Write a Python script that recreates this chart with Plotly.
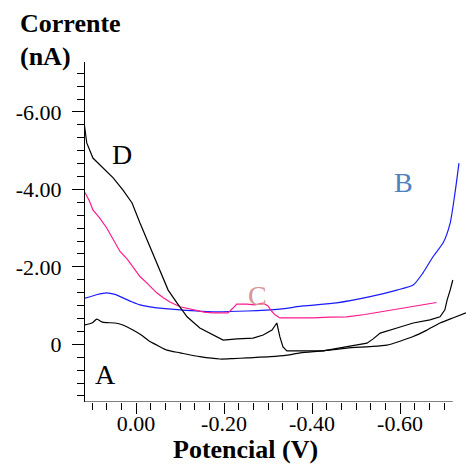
import plotly.graph_objects as go

# Potential (V) and current (nA) for the four voltammograms
pot_a = [0.116, 0.100, 0.089, 0.078, 0.067, 0.048, 0.030, 0.007, -0.012, -0.032, -0.052,
         -0.070, -0.100, -0.145, -0.191, -0.220, -0.252, -0.305, -0.343, -0.373, -0.425,
         -0.479, -0.530, -0.570, -0.600, -0.630, -0.660, -0.691, -0.720, -0.750]
cur_a = [-0.50, -0.55, -0.65, -0.58, -0.56, -0.55, -0.50, -0.37, -0.24, -0.07, 0.05,
         0.15, 0.22, 0.32, 0.38, 0.37, 0.35, 0.32, 0.28, 0.22, 0.17,
         0.10, 0.06, 0.02, -0.08, -0.20, -0.36, -0.55, -0.68, -0.81]

pot_b = [0.116, 0.090, 0.067, 0.048, 0.030, 0.010, -0.009, -0.047, -0.100, -0.175,
         -0.252, -0.327, -0.380, -0.456, -0.532, -0.593, -0.630, -0.652, -0.675, -0.698,
         -0.714, -0.725, -0.734]
cur_b = [-1.19, -1.28, -1.33, -1.29, -1.20, -1.10, -1.02, -0.94, -0.89, -0.84,
         -0.86, -0.91, -0.99, -1.07, -1.23, -1.40, -1.53, -1.84, -2.26, -2.62,
         -3.13, -3.91, -4.68]

pot_c = [0.116, 0.106, 0.098, 0.082, 0.067, 0.052, 0.036, 0.020, 0.007, -0.009, -0.025,
         -0.047, -0.062, -0.077, -0.100, -0.130, -0.155, -0.175, -0.209, -0.220, -0.229,
         -0.252, -0.270, -0.289, -0.300, -0.308, -0.316, -0.327, -0.360, -0.402, -0.440,
         -0.479, -0.520, -0.555, -0.590, -0.630, -0.660, -0.683]
cur_c = [-3.92, -3.70, -3.47, -3.25, -3.01, -2.70, -2.39, -2.20, -2.01, -1.75, -1.58,
         -1.33, -1.20, -1.09, -0.97, -0.89, -0.83, -0.81, -0.81, -0.93, -1.04,
         -1.04, -1.02, -1.06, -0.99, -0.86, -0.76, -0.68, -0.68, -0.68, -0.70,
         -0.71, -0.77, -0.84, -0.90, -0.99, -1.04, -1.08]

pot_d = [0.118, 0.112, 0.098, 0.086, 0.070, 0.052, 0.030, 0.009, -0.009, -0.032,
         -0.055, -0.073, -0.093, -0.116, -0.145, -0.175, -0.198, -0.230, -0.266, -0.289,
         -0.309, -0.320, -0.327, -0.334, -0.343, -0.425, -0.480, -0.525, -0.539, -0.555,
         -0.593, -0.630, -0.668, -0.691, -0.702, -0.707, -0.714, -0.720]
cur_d = [-5.72, -5.20, -4.81, -4.68, -4.50, -4.30, -3.99, -3.65, -3.13, -2.51,
         -1.92, -1.40, -1.07, -0.71, -0.42, -0.24, -0.11, -0.14, -0.16, -0.24,
         -0.37, -0.55, -0.19, 0.07, 0.17, 0.17, 0.07, -0.03, -0.14, -0.29,
         -0.42, -0.55, -0.63, -0.71, -0.89, -1.14, -1.40, -1.66]

x_tick_vals = [0.0, -0.2, -0.4, -0.6]
x_tick_text = ["0.00", "-0.20", "-0.40", "-0.60"]
y_tick_vals = [0, -2, -4, -6]
y_tick_text = ["0", "-2.00", "-4.00", "-6.00"]

# Curve labels: text, potential, current, colour
curve_labels = [
    ("D", 0.032, -4.89, "#000000"),
    ("B", -0.609, -4.17, "#4f81bd"),
    ("C", -0.277, -1.27, "#d99594"),
    ("A", 0.070, 0.79, "#000000"),
]

SERIF = "Liberation Serif, Times New Roman, serif"
X_RANGE = [0.116, -0.75]
Y_RANGE = [1.49, -7.29]
X_AXIS_END = -0.72

fig = go.Figure()
series = [(pot_a, cur_a, "#000000", "spline"), (pot_b, cur_b, "#1a1aff", "spline"),
          (pot_c, cur_c, "#ff1a8c", "linear"), (pot_d, cur_d, "#000000", "linear")]
for px, cy, col, shp in series:
    fig.add_trace(go.Scatter(x=px, y=cy, mode="lines",
                             line=dict(color=col, width=1.2, shape=shp, smoothing=0.6),
                             showlegend=False, hoverinfo="skip"))

x_minor = [round(0.1 - k / 30, 4) for k in range(25)]
y_minor = [round(4 / 3 - k / 3, 4) for k in range(27)]

fig.update_xaxes(
    range=X_RANGE, showgrid=False, zeroline=False, showline=False,
    tickmode="array", tickvals=x_tick_vals, ticktext=x_tick_text,
    ticks="outside", ticklen=11, tickwidth=1, tickcolor="black",
    ticklabelstandoff=-9,
    tickfont=dict(family=SERIF, size=22, color="black"),
    minor=dict(tickmode="array", tickvals=x_minor, ticks="outside",
               ticklen=7, tickwidth=1, tickcolor="black", showgrid=False),
)
fig.update_yaxes(
    range=Y_RANGE, showgrid=False, zeroline=False, showline=True,
    linecolor="black", linewidth=1,
    tickmode="array", tickvals=y_tick_vals, ticktext=y_tick_text,
    ticks="outside", ticklen=12, tickwidth=1, tickcolor="black",
    ticklabelstandoff=6,
    tickfont=dict(family=SERIF, size=22, color="black"),
    minor=dict(tickmode="array", tickvals=y_minor, ticks="outside",
               ticklen=7, tickwidth=1, tickcolor="black", showgrid=False),
)

# Horizontal axis line stops short of the plot edge
fig.add_shape(type="line", xref="x", yref="y", x0=X_RANGE[0], x1=X_AXIS_END,
              y0=Y_RANGE[0], y1=Y_RANGE[0], line=dict(color="black", width=1))

for txt, xv, yv, col in curve_labels:
    fig.add_annotation(x=xv, y=yv, xref="x", yref="y", text=txt, showarrow=False,
                       xanchor="center", yanchor="middle",
                       font=dict(family=SERIF, size=28, color=col))

title_font = dict(family=SERIF, size=26, color="black", weight="bold")
fig.add_annotation(x=-0.176, y=1.112, xref="paper", yref="paper", text="Corrente",
                   showarrow=False, xanchor="left", yanchor="middle", font=title_font)
fig.add_annotation(x=-0.176, y=1.015, xref="paper", yref="paper", text="(nA)",
                   showarrow=False, xanchor="left", yanchor="middle", font=title_font)
fig.add_annotation(x=0.421, y=-0.141, xref="paper", yref="paper", text="Potencial (V)",
                   showarrow=False, xanchor="center", yanchor="middle", font=title_font)

fig.update_layout(
    width=466, height=464,
    margin=dict(l=85, r=0, t=62, b=62),
    paper_bgcolor="white", plot_bgcolor="white",
    showlegend=False,
)

fig.write_html("out.html")
